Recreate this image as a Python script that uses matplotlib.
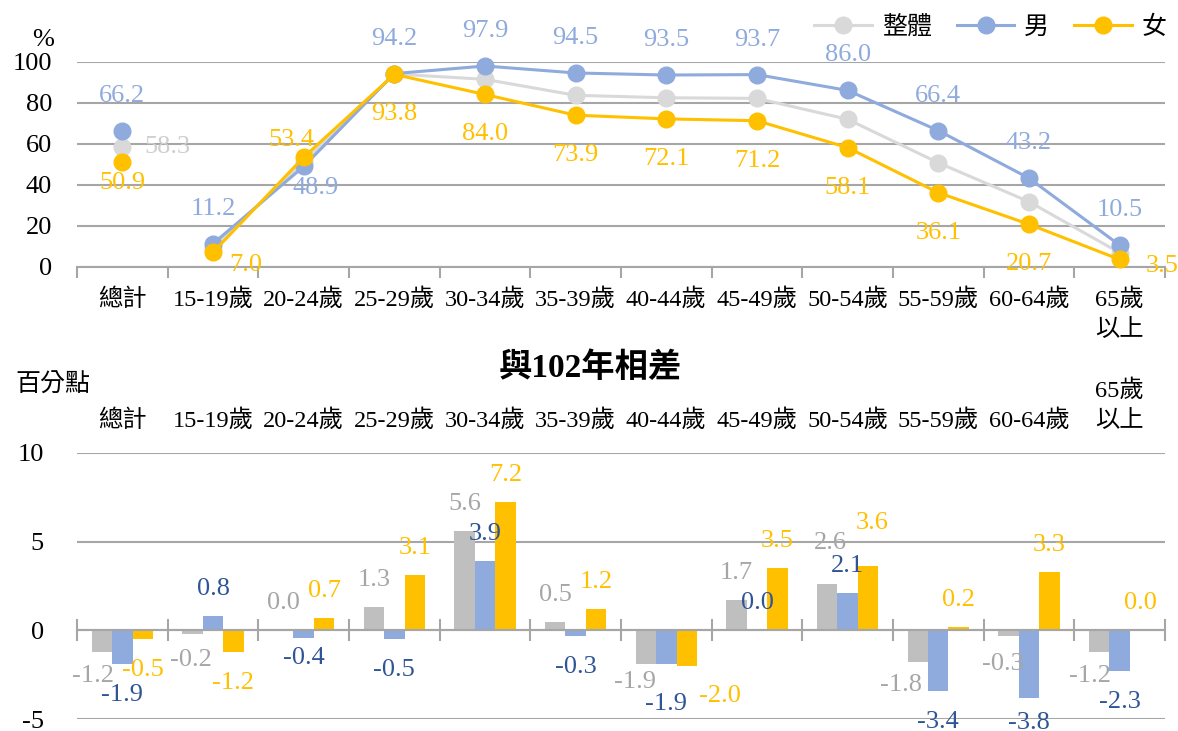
import numpy as np
import matplotlib.pyplot as plt
from matplotlib.lines import Line2D

plt.rcParams['font.family'] = ['Liberation Serif', 'Noto Sans CJK TC']
plt.rcParams['axes.unicode_minus'] = False

# data
categories = ['總計', '15-19歲', '20-24歲', '25-29歲', '30-34歲', '35-39歲',
              '40-44歲', '45-49歲', '50-54歲', '55-59歲', '60-64歲', '65歲\n以上']
rate_all = [58.3, 9.0, 51.2, 94.0, 91.4, 83.6, 82.4, 82.1, 71.9, 50.7, 31.7, 6.8]
rate_male = [66.2, 11.2, 48.9, 94.2, 97.9, 94.5, 93.5, 93.7, 86.0, 66.4, 43.2, 10.5]
rate_female = [50.9, 7.0, 53.4, 93.8, 84.0, 73.9, 72.1, 71.2, 58.1, 36.1, 20.7, 3.5]

diff_all = [-1.2, -0.2, 0.0, 1.3, 5.6, 0.5, -1.9, 1.7, 2.6, -1.8, -0.3, -1.2]
diff_male = [-1.9, 0.8, -0.4, -0.5, 3.9, -0.3, -1.9, 0.0, 2.1, -3.4, -3.8, -2.3]
diff_female = [-0.5, -1.2, 0.7, 3.1, 7.2, 1.2, -2.0, 3.5, 3.6, 0.2, 3.3, 0.0]

series_names = ['整體', '男', '女']

c_gray_line = '#D9D9D9'
c_gray_bar = '#BFBFBF'
c_blue = '#8FAADC'
c_blue_dark = '#2F5597'
c_yellow = '#FFC000'
c_grid = '#A6A6A6'

x = np.arange(len(categories))

fig = plt.figure(figsize=(11.78, 7.31), dpi=100)

# ---------------- top: participation rate lines ----------------
ax1 = fig.add_axes([0.0654, 0.6352, 0.9235, 0.2804])
ax1.set_xlim(-0.5, len(categories) - 0.5)
ax1.set_ylim(0, 100)
ax1.set_yticks([0, 20, 40, 60, 80, 100])
ax1.yaxis.grid(True, color=c_grid, lw=1.5)
ax1.set_axisbelow(True)
for s in ['left', 'right', 'top']:
    ax1.spines[s].set_visible(False)
ax1.spines['bottom'].set_color(c_grid)
ax1.spines['bottom'].set_linewidth(1.5)
ax1.tick_params(axis='y', length=0, labelsize=19, pad=18)
ax1.set_xticks(np.arange(len(categories) + 1) - 0.5)
ax1.set_xticklabels([])
ax1.tick_params(axis='x', length=8, width=1.5, color=c_grid)

for vals, col in [(rate_all, c_gray_line), (rate_male, c_blue), (rate_female, c_yellow)]:
    ax1.plot(x[1:], vals[1:], color=col, lw=2.2, marker='o', ms=12, clip_on=False, zorder=3)
    ax1.plot(x[:1], vals[:1], color=col, lw=0, marker='o', ms=12, clip_on=False, zorder=3)

# value labels (pixel offsets)
male_off = {2: (12, -22)}
female_off = {0: (0, -21), 1: (33, -13), 2: (-12, 17), 11: (43, -7)}
for i in range(len(categories)):
    dx, dy = male_off.get(i, (0, 35))
    ax1.annotate(f'{rate_male[i]:.1f}', (x[i], rate_male[i]), xytext=(dx, dy),
                 textcoords='offset pixels', ha='center', va='center',
                 fontsize=19, color=c_blue, annotation_clip=False)
    dx, dy = female_off.get(i, (0, -40))
    ax1.annotate(f'{rate_female[i]:.1f}', (x[i], rate_female[i]), xytext=(dx, dy),
                 textcoords='offset pixels', ha='center', va='center',
                 fontsize=19, color=c_yellow, annotation_clip=False)
ax1.annotate(f'{rate_all[0]:.1f}', (x[0], rate_all[0]), xytext=(45, 0),
             textcoords='offset pixels', ha='center', va='center',
             fontsize=19, color='#CFCFCF')

for i, lab in enumerate(categories):
    ax1.annotate(lab, (x[i], 0), xycoords=('data', 'axes fraction'),
                 xytext=(0, -22), textcoords='offset pixels',
                 ha='center', va='top', fontsize=17.5, linespacing=1.45)

fig.text(43 / 1178, 1 - 40 / 731, '%', ha='center', va='center', fontsize=19)

handles = [Line2D([], [], color=c, lw=2.2, marker='o', ms=12)
           for c in (c_gray_line, c_blue, c_yellow)]
fig.legend(handles, series_names, loc='center right', bbox_to_anchor=(0.999, 1 - 27 / 731),
           ncol=3, frameon=False, fontsize=18, handlelength=2.3, handletextpad=0.4,
           columnspacing=1.0, borderaxespad=0)

# ---------------- bottom: change vs 102 bars ----------------
ax2 = fig.add_axes([0.0654, 0.0160, 0.9235, 0.3647])
ax2.set_xlim(-0.5, len(categories) - 0.5)
ax2.set_ylim(-5, 10)
ax2.set_yticks([-5, 0, 5, 10])
ax2.yaxis.grid(True, color=c_grid, lw=1.5)
ax2.set_axisbelow(True)
for s in ['left', 'right', 'top']:
    ax2.spines[s].set_visible(False)
ax2.spines['bottom'].set_position(('data', 0))
ax2.spines['bottom'].set_color(c_grid)
ax2.spines['bottom'].set_linewidth(1.5)
ax2.tick_params(axis='y', length=0, labelsize=19, pad=24)
ax2.set_xticks(np.arange(len(categories) + 1) - 0.5)
ax2.set_xticklabels([])
ax2.tick_params(axis='x', direction='inout', length=16, width=1.5, color=c_grid)

w = 0.225
# label offsets in pixels where the reference moves a label off its default spot
gray_off = {1: (-2, -26), 6: (-11, -18), 8: (3, 41), 9: (-17, -23), 10: (-6, -28)}
male_off2 = {2: (0, -20), 6: (0, -40), 10: (0, -25)}
female_off2 = {6: (33, -30), 8: (4, 43)}
bar_sets = [(diff_all, c_gray_bar, '#A6A6A6', -w, gray_off),
            (diff_male, c_blue, c_blue_dark, 0, male_off2),
            (diff_female, c_yellow, c_yellow, w, female_off2)]
for vals, col, lcol, off, special in bar_sets:
    ax2.bar(x + off, vals, width=w, color=col, zorder=2)
    for i, v in enumerate(vals):
        if v >= 0:
            default = (0, 27)
        elif off < 0:
            default = (-9, -24)
        else:
            default = (0, -31)
        dx, dy = special.get(i, default)
        ax2.annotate(f'{v:.1f}', (x[i] + off, v), xytext=(dx, dy),
                     textcoords='offset pixels', ha='center', va='center',
                     fontsize=19, color=lcol, annotation_clip=False, zorder=4)

for i, lab in enumerate(categories):
    ax2.annotate(lab, (x[i], 1), xycoords=('data', 'axes fraction'),
                 xytext=(0, 21), textcoords='offset pixels',
                 ha='center', va='bottom', fontsize=17.5, linespacing=1.45)

fig.text(53 / 1178, 1 - 385 / 731, '百分點', ha='center', va='center', fontsize=18)
fig.text(590 / 1178, 1 - 368 / 731, '與102年相差', ha='center', va='center',
         fontsize=24, fontweight='bold')

fig.savefig('out.png', dpi=100)
